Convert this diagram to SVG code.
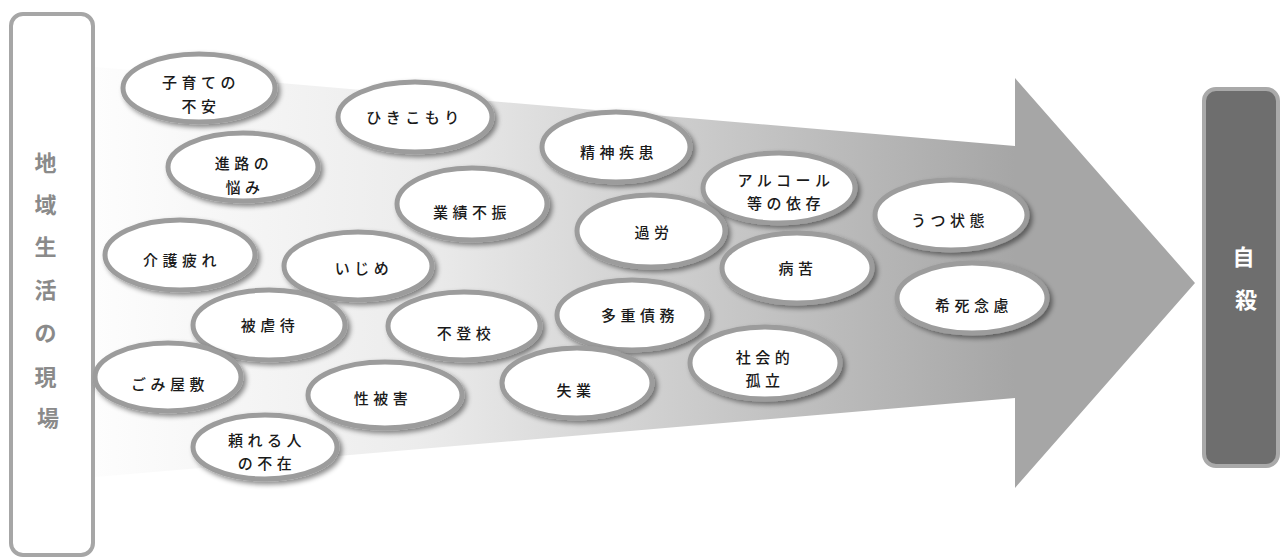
<svg xmlns="http://www.w3.org/2000/svg" width="1280" height="559" viewBox="0 0 1280 559">
  <defs>
    <linearGradient id="arrowGrad" gradientUnits="userSpaceOnUse" x1="95" y1="0" x2="1015" y2="0">
      <stop offset="0" stop-color="#fdfdfd"/>
      <stop offset="0.35" stop-color="#ececec"/>
      <stop offset="0.7" stop-color="#c6c6c6"/>
      <stop offset="1" stop-color="#a6a6a6"/>
    </linearGradient>
    <filter id="shadow" x="-20%" y="-30%" width="150%" height="170%">
      <feDropShadow dx="3" dy="3" stdDeviation="2.5" flood-color="#000" flood-opacity="0.45"/>
    </filter>
  </defs>
  <style>
    .bubble ellipse { fill: #ffffff; stroke: #9c9c9c; stroke-width: 5; filter: url(#shadow); }
    .bubble text { font-family: "Noto Sans CJK JP", "Noto Sans", sans-serif; font-size: 15px; font-weight: 500; letter-spacing: 4.5px; fill: #1a1a1a; text-anchor: middle; }
    .side { font-family: "Noto Sans CJK JP", "Noto Sans", sans-serif; font-size: 22px; font-weight: bold; text-anchor: middle; }
  </style>

  <rect width="1280" height="559" fill="#ffffff"/>

  <g id="arrow">
    <polygon points="95,67 1015,146 1015,78 1195,283 1015,488 1015,398 95,477" fill="url(#arrowGrad)"/>
  </g>

  <g id="community">
    <rect x="11" y="14" width="82" height="541" rx="12" ry="12" fill="#ffffff" stroke="#a6a6a6" stroke-width="4"/>
    <text class="side" fill="#8a8a8a">
      <tspan x="48" y="171">地</tspan>
      <tspan x="48" y="213">域</tspan>
      <tspan x="48" y="255">生</tspan>
      <tspan x="48" y="298">活</tspan>
      <tspan x="48" y="341">の</tspan>
      <tspan x="48" y="385">現</tspan>
      <tspan x="48" y="426">場</tspan>
    </text>
  </g>

  <g id="suicide">
    <rect x="1204" y="89" width="74" height="377" rx="12" ry="12" fill="#6e6e6e" stroke="#a9a9a9" stroke-width="4"/>
    <text class="side" fill="#ffffff">
      <tspan x="1246" y="265">自</tspan>
      <tspan x="1246" y="308">殺</tspan>
    </text>
  </g>

  <g id="connectors"></g>

  <g id="n-kosodate" class="bubble">
    <ellipse cx="199" cy="88" rx="76" ry="34"/>
    <text><tspan x="201" y="87.5">子育ての</tspan><tspan x="201" y="111.5">不安</tspan></text>
  </g>
  <g id="n-hikikomori" class="bubble">
    <ellipse cx="415" cy="117" rx="77" ry="35"/>
    <text x="415" y="122.5">ひきこもり</text>
  </g>
  <g id="n-seishin" class="bubble">
    <ellipse cx="616" cy="147" rx="74" ry="35"/>
    <text x="619" y="157.5">精神疾患</text>
  </g>
  <g id="n-shinro" class="bubble">
    <ellipse cx="243" cy="167" rx="75" ry="34"/>
    <text><tspan x="244" y="168.5">進路の</tspan><tspan x="245" y="192.5">悩み</tspan></text>
  </g>
  <g id="n-alcohol" class="bubble">
    <ellipse cx="779" cy="188" rx="76" ry="35"/>
    <text><tspan x="786" y="185.5">アルコール</tspan><tspan x="786" y="208.5">等の依存</tspan></text>
  </g>
  <g id="n-gyoseki" class="bubble">
    <ellipse cx="472" cy="204" rx="75" ry="36"/>
    <text x="472" y="217.5">業績不振</text>
  </g>
  <g id="n-utsu" class="bubble">
    <ellipse cx="951" cy="215" rx="76" ry="35"/>
    <text x="950" y="225.5">うつ状態</text>
  </g>
  <g id="n-karo" class="bubble">
    <ellipse cx="651" cy="231" rx="74" ry="36"/>
    <text x="654" y="237.5">過労</text>
  </g>
  <g id="n-kaigo" class="bubble">
    <ellipse cx="180" cy="255" rx="75" ry="35"/>
    <text x="182" y="265.5">介護疲れ</text>
  </g>
  <g id="n-ijime" class="bubble">
    <ellipse cx="358" cy="266" rx="74" ry="34"/>
    <text x="364" y="273.5">いじめ</text>
  </g>
  <g id="n-byoku" class="bubble">
    <ellipse cx="797" cy="268" rx="75" ry="35"/>
    <text x="798" y="273.5">病苦</text>
  </g>
  <g id="n-kishi" class="bubble">
    <ellipse cx="972" cy="298" rx="75" ry="35"/>
    <text x="974" y="310.5">希死念慮</text>
  </g>
  <g id="n-tajusaimu" class="bubble">
    <ellipse cx="632" cy="315" rx="75" ry="35"/>
    <text x="640" y="320.5">多重債務</text>
  </g>
  <g id="n-higyakutai" class="bubble">
    <ellipse cx="269" cy="325" rx="76" ry="35"/>
    <text x="270" y="330.5">被虐待</text>
  </g>
  <g id="n-futoko" class="bubble">
    <ellipse cx="464" cy="326" rx="76" ry="34"/>
    <text x="466" y="338.5">不登校</text>
  </g>
  <g id="n-shakai" class="bubble">
    <ellipse cx="765" cy="363" rx="75" ry="36"/>
    <text><tspan x="765" y="362.5">社会的</tspan><tspan x="765" y="385.5">孤立</tspan></text>
  </g>
  <g id="n-gomi" class="bubble">
    <ellipse cx="168" cy="377" rx="73" ry="34"/>
    <text x="170" y="390">ごみ屋敷</text>
  </g>
  <g id="n-shitsugyo" class="bubble">
    <ellipse cx="577" cy="383" rx="75" ry="35"/>
    <text x="576" y="395.5">失業</text>
  </g>
  <g id="n-seihigai" class="bubble">
    <ellipse cx="385" cy="395" rx="77" ry="33"/>
    <text x="383" y="403.5">性被害</text>
  </g>
  <g id="n-tayoreru" class="bubble">
    <ellipse cx="265" cy="447" rx="72" ry="32"/>
    <text><tspan x="267" y="445.5">頼れる人</tspan><tspan x="267" y="468.5">の不在</tspan></text>
  </g>
</svg>
